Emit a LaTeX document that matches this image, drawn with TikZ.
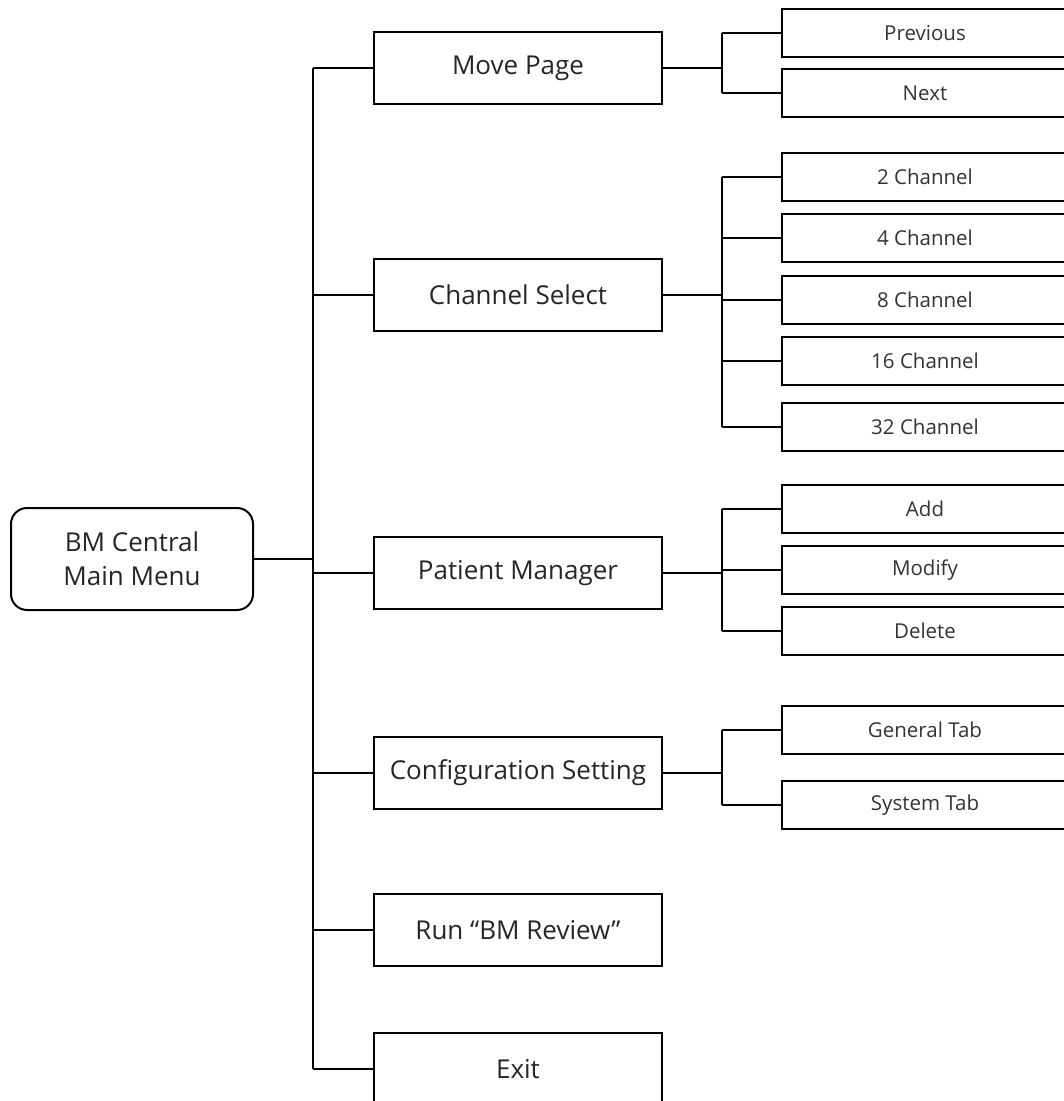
\documentclass[tikz,border=0pt]{standalone}
\usepackage{fontspec}
\setmainfont{Open Sans}
\usetikzlibrary{positioning}
\tikzset{
  mainbox/.style={draw, line width=2pt, rounded corners=16pt, minimum width=242pt, minimum height=102pt, inner sep=0pt, align=center, text=black!85, font=\fontsize{26}{34}\selectfont},
  menubox/.style={draw, line width=2pt, minimum width=288pt, minimum height=72pt, inner sep=0pt, text=black!85, font=\fontsize{26}{32}\selectfont},
  subbox/.style={draw, line width=2pt, minimum width=286pt, minimum height=48pt, inner sep=0pt, text=black!80, font=\fontsize{20.5}{24}\selectfont},
  link/.style={line width=2pt}
}
\begin{document}
\begin{tikzpicture}[x=1pt,y=-1pt]
            % Frame
            \useasboundingbox (0,0) rectangle (1064,1101);
            \clip (0,0) rectangle (1064,1101);
            % Define points
            \coordinate (trunk) at (313,0);
            \coordinate (fork) at (722,0);
            % Main menu
            \node[mainbox] (main) at (132,559) {BM Central\\Main Menu};
            % First level
            \node[menubox] (move) at (518,68) {Move Page};
            \node[menubox] (chan) at (518,295) {Channel Select};
            \node[menubox] (pat) at (518,573) {Patient Manager};
            \node[menubox] (conf) at (518,773) {Configuration Setting};
            \node[menubox] (run) at (518,930) {Run “BM Review”};
            \node[menubox] (exit) at (518,1069) {Exit};
            % Second level
            \node[subbox] (prev) at (925,33) {Previous};
            \node[subbox] (next) at (925,93) {Next};
            \node[subbox] (ch2) at (925,177) {2 Channel};
            \node[subbox] (ch4) at (925,238) {4 Channel};
            \node[subbox] (ch8) at (925,300) {8 Channel};
            \node[subbox] (ch16) at (925,361) {16 Channel};
            \node[subbox] (ch32) at (925,427) {32 Channel};
            \node[subbox] (add) at (925,509) {Add};
            \node[subbox] (mod) at (925,570) {Modify};
            \node[subbox] (del) at (925,631) {Delete};
            \node[subbox] (gen) at (925,730) {General Tab};
            \node[subbox] (sys) at (925,805) {System Tab};
            % Tree lines
            \draw[link] (main.east) -- (main.east -| trunk);
            \draw[link] (move.west -| trunk) -- (exit.west -| trunk);
            \foreach \n in {move,chan,pat,conf,run,exit}
              \draw[link] (\n.west -| trunk) -- (\n.west);
            \foreach \p/\a/\b in {move/prev/next, chan/ch2/ch32, pat/add/del, conf/gen/sys}{
              \draw[link] (\p.east) -- (\p.east -| fork);
              \draw[link] (\a.west -| fork) -- (\b.west -| fork);
            }
            \foreach \n in {prev,next,ch2,ch4,ch8,ch16,ch32,add,mod,del,gen,sys}
              \draw[link] (\n.west -| fork) -- (\n.west);
          \end{tikzpicture}
\end{document}
